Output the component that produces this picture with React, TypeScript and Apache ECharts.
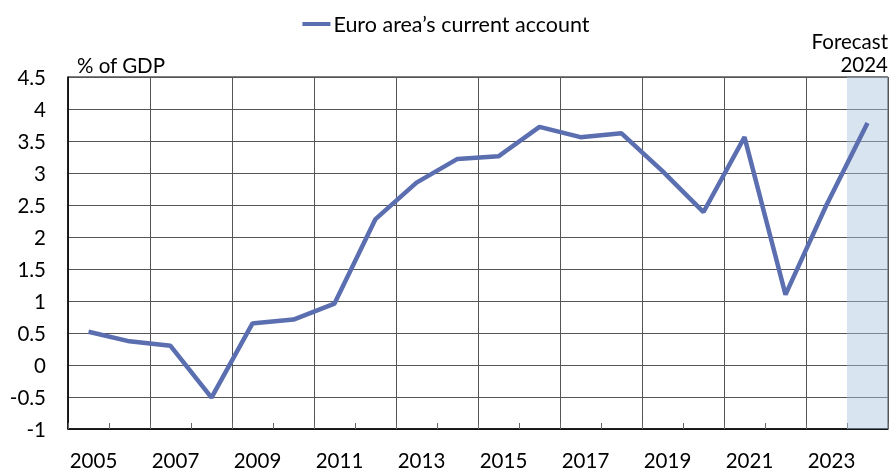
import React, { useEffect, useRef } from "react";
import * as echarts from "echarts";

const years = ["2005","2006","2007","2008","2009","2010","2011","2012","2013","2014","2015","2016","2017","2018","2019","2020","2021","2022","2023","2024"];
const currentAccount = [0.52,0.37,0.30,-0.51,0.65,0.71,0.96,2.28,2.85,3.22,3.26,3.72,3.56,3.62,3.03,2.39,3.56,1.10,2.50,3.78];
const forecastYears = ["2024"];
const seriesName = "Euro area\u2019s current account";
const unitLabel = "% of GDP";
const forecastLabel = ["Forecast", "2024"];

const FONT = "Lato";
const FS = 20.5;

export default function App() {
  const ref = useRef<HTMLDivElement>(null);
  useEffect(() => {
    if (!ref.current) return;
    const chart = echarts.init(ref.current, null, { renderer: "svg" });
    chart.setOption({
      animation: false,
      textStyle: { fontFamily: FONT, color: "#000" },
      legend: {
        top: 8,
        left: "center",
        icon: "rect",
        itemWidth: 28,
        itemHeight: 4,
        itemGap: 4,
        textStyle: { fontSize: 21.5, color: "#000", fontFamily: FONT, padding: [0, 0, 0, -2] },
        data: [seriesName],
      },
      grid: {
        left: 68,
        right: 4,
        top: 77,
        bottom: 39,
        show: true,
        borderColor: "#000",
        borderWidth: 1,
      },
      xAxis: {
        type: "category",
        data: years,
        boundaryGap: true,
        axisLine: { onZero: false, lineStyle: { color: "#000", width: 1.5 } },
        axisTick: { show: true, interval: 0, inside: true, length: 6, lineStyle: { color: "#666" } },
        axisLabel: { interval: 1, fontSize: FS, color: "#000", margin: 20, padding: [0, 0, 0, 10], fontFamily: FONT },
        splitLine: { show: true, interval: 1, lineStyle: { color: "#555", width: 1 } },
      },
      yAxis: {
        type: "value",
        min: -1,
        max: 4.5,
        interval: 0.5,
        axisLine: { show: true, lineStyle: { color: "#000", width: 1.5 } },
        axisTick: { show: false },
        axisLabel: { fontSize: FS, color: "#000", margin: 22, fontFamily: FONT },
        splitLine: { show: true, lineStyle: { color: "#555", width: 1 } },
      },
      graphic: [
        { type: "text", left: 77, top: 54, style: { text: unitLabel, fill: "#000", font: `${FS}px ${FONT}` } },
        { type: "text", right: 4, top: 30, style: { text: forecastLabel[0], fill: "#000", font: `${FS}px ${FONT}`, textAlign: "right" } },
        { type: "text", right: 4, top: 53, style: { text: forecastLabel[1], fill: "#000", font: `${FS}px ${FONT}`, textAlign: "right" } },
      ],
      series: [
        {
          type: "custom",
          name: "forecast",
          z: 1,
          silent: true,
          data: forecastYears.map((y) => [y, 0]),
          renderItem: (params: any, api: any) => {
            const cx = api.coord([api.value(0), 0])[0];
            const w = api.size([1, 0])[0];
            const cs = params.coordSys;
            return {
              type: "rect",
              shape: { x: cx - w / 2, y: cs.y, width: w, height: cs.height },
              style: { fill: "rgba(170,195,225,0.45)" },
            };
          },
        },
        {
          type: "line",
          name: seriesName,
          data: currentAccount,
          symbol: "none",
          z: 3,
          lineStyle: { color: "#5A6EB0", width: 4.5 },
          itemStyle: { color: "#5A6EB0" },
        },
      ],
    });
    return () => chart.dispose();
  }, []);
  return <div ref={ref} style={{ position: "fixed", left: 0, top: 0, width: 892, height: 470 }} />;
}
